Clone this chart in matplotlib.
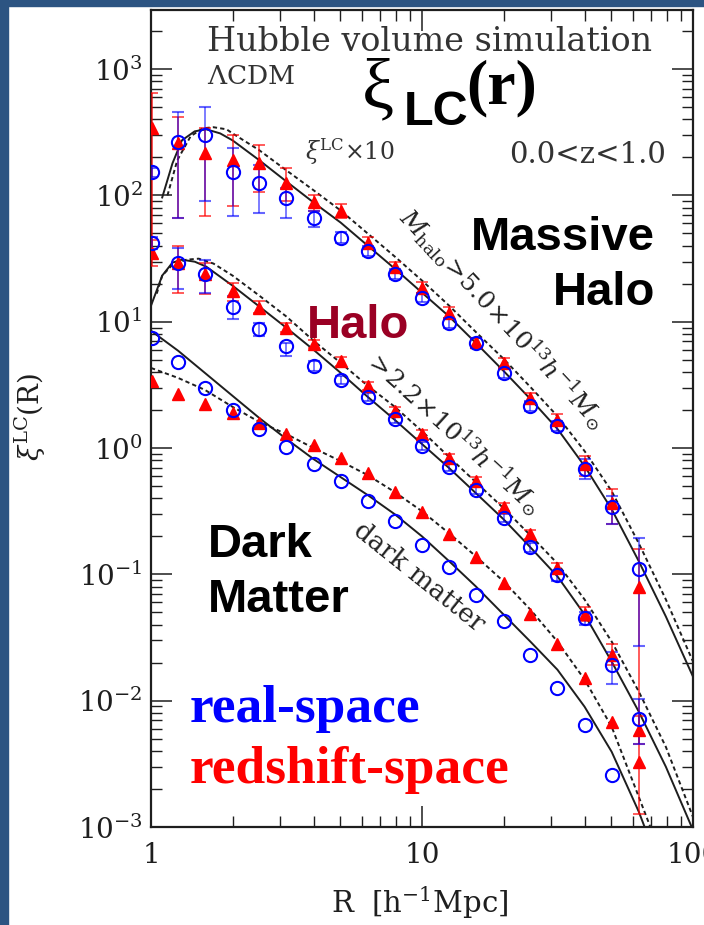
import matplotlib
matplotlib.use("Agg")
import matplotlib.pyplot as plt
from matplotlib.patches import Rectangle

plt.rcParams['mathtext.fontset'] = 'dejavuserif'
plt.rcParams['font.family'] = ['DejaVu Serif']

# measured points (R in h^-1 Mpc)
R_pts = [1.01, 1.26, 1.58, 2.0, 2.51, 3.16, 3.98, 5.01, 6.31, 7.94,
         10.0, 12.6, 15.8, 20.0, 25.1, 31.6, 39.8, 50.1, 63.1]

# massive halo (x10)
massive_real = [152, 265, 299, 152, 125, 95, 66, 46, 36.6, 24, 15.5, 9.8, 6.8, 3.94, 2.15, 1.5, 0.68, 0.34, 0.11]
massive_real_lo = [140, 66, 91, 69, 73, 66, 56, 42, 33.4, 22, 14.3, 9.0, 6.2, 3.6, 1.95, 1.37, 0.57, 0.25, 0.027]
massive_real_hi = [165, 456, 499, 236, 173, 114, 76, 51, 40, 26.2, 16.8, 10.7, 7.4, 4.3, 2.37, 1.64, 0.82, 0.42, 0.193]
massive_red = [340, 258, 215, 190, 180, 125, 88, 76, 42, 27.3, 18.6, 11.8, 6.9, 4.7, 2.5, 1.67, 0.746, 0.366, 0.080]
massive_red_lo = [32, 66, 69, 83, 106, 91, 75, 66, 38, 25, 17, 10.8, 6.3, 4.3, 2.3, 1.5, 0.599, 0.249, 0.00127]
massive_red_hi = [646, 415, 345, 300, 250, 164, 100, 86, 47, 30, 20.5, 13, 7.5, 5.2, 2.75, 1.85, 0.864, 0.473, 0.158]

# halo
halo_real = [42.4, 29.4, 24, 13.2, 8.8, 6.4, 4.48, 3.46, 2.54, 1.70, 1.04, 0.707, 0.464, 0.278, 0.164, 0.098, 0.0448, 0.0193, 0.0071]
halo_real_lo = [38, 18.3, 17, 10.6, 7.7, 5.37, 4.08, 3.2, 2.35, 1.58, 0.97, 0.66, 0.43, 0.258, 0.15, 0.089, 0.040, 0.0136, 0.0045]
halo_real_hi = [47, 38.7, 31, 16.1, 9.8, 6.8, 4.9, 3.7, 2.72, 1.82, 1.11, 0.755, 0.5, 0.3, 0.178, 0.107, 0.050, 0.0245, 0.0104]
halo_red = [35.3, 29.4, 24, 17.6, 12.9, 9.0, 6.7, 4.9, 3.1, 1.97, 1.29, 0.833, 0.547, 0.34, 0.208, 0.112, 0.049, 0.023, 0.0059]
halo_red_lo = [27.8, 17, 16.7, 14.7, 11.8, 8.3, 6.2, 4.5, 2.9, 1.85, 1.2, 0.78, 0.51, 0.315, 0.19, 0.1, 0.043, 0.019, 0.0045]
halo_red_hi = [44, 40, 29.4, 20.4, 14.7, 9.8, 7.2, 5.3, 3.35, 2.1, 1.38, 0.89, 0.585, 0.365, 0.225, 0.124, 0.055, 0.028, 0.0075]

# dark matter (no error bars)
dm_real = [7.46, 4.8, 3.0, 2.0, 1.41, 1.02, 0.746, 0.547, 0.379, 0.263, 0.172, 0.114, 0.069, 0.043, 0.023, 0.0127, 0.0064, 0.00257]
dm_red = [3.4, 2.68, 2.23, 1.90, 1.58, 1.29, 1.06, 0.833, 0.633, 0.448, 0.311, 0.208, 0.137, 0.085, 0.049, 0.028, 0.015, 0.0068, 0.0033]

# model curves (solid = real space, dashed = redshift space)
mass_solid_R = [1.1, 1.2, 1.3, 1.45, 1.6, 1.8, 2.0, 2.51, 3.16, 3.98, 5.01, 6.31, 7.94, 10, 12.6, 15.8, 20, 25.1, 31.6, 39.8, 50.1, 63.1, 79.4, 100]
mass_solid = [96.4, 179.5, 273, 322, 334, 310, 273, 190, 129, 88, 61, 40, 26.3, 17.0, 11.0, 6.8, 4.08, 2.45, 1.42, 0.72, 0.328, 0.127, 0.0464, 0.0155]
mass_dash_R = [1.15, 1.25, 1.4, 1.55, 1.7, 1.9, 2.0, 2.51, 3.16, 3.98, 5.01, 6.31, 7.94, 10, 12.6, 15.8, 20, 25.1, 31.6, 39.8, 50.1, 63.1, 79.4, 100]
mass_dash = [100, 190, 294, 340, 347, 334, 310, 228, 158, 110, 76, 49.9, 32.8, 21.2, 13.4, 8.3, 5.09, 3.05, 1.79, 0.947, 0.456, 0.176, 0.0633, 0.0204]

halo_solid_R = [1.0, 1.1, 1.2, 1.3, 1.45, 1.6, 2.0, 2.51, 3.16, 3.98, 5.01, 6.31, 7.94, 10, 12.6, 15.8, 20, 25.1, 31.6, 39.8, 50.1, 63.1, 79.4, 100]
halo_solid = [13.4, 23.2, 29.4, 31.0, 29.9, 27.3, 19.3, 13.2, 8.96, 6.0, 3.94, 2.54, 1.67, 1.076, 0.694, 0.44, 0.273, 0.164, 0.0965, 0.0481, 0.0204, 0.00818, 0.0030, 0.000946]
halo_dash_R = [1.05, 1.1, 1.2, 1.35, 1.5, 1.7, 2.0, 2.51, 3.16, 3.98, 5.01, 6.31, 7.94, 10, 12.6, 15.8, 20, 25.1, 31.6, 39.8, 50.1, 63.1, 79.4, 100]
halo_dash = [16.7, 23.2, 28.3, 31.0, 31.6, 28.9, 23.2, 16.1, 11.0, 7.07, 4.73, 3.11, 2.12, 1.36, 0.849, 0.537, 0.334, 0.204, 0.122, 0.0633, 0.0294, 0.0118, 0.00431, 0.0012]

dm_curve_R = [1.0, 1.26, 1.58, 2.0, 2.51, 3.16, 3.98, 5.01, 6.31, 7.94, 10, 12.6, 15.8, 20, 25.1, 31.6, 39.8, 50.1, 63.1, 70.8]
dm_solid = [8.49, 5.89, 3.94, 2.59, 1.73, 1.18, 0.818, 0.589, 0.424, 0.299, 0.200, 0.127, 0.0803, 0.0481, 0.0294, 0.0176, 0.00896, 0.00394, 0.00132, 0.00069]
dm_dash = [4.31, 3.59, 2.89, 2.12, 1.61, 1.29, 1.0, 0.788, 0.610, 0.448, 0.316, 0.211, 0.139, 0.088, 0.0527, 0.0294, 0.0147, 0.00622, 0.00173, 0.00091]

W, H = 704, 925
BLUE = '#0000ff'
RED = '#ff0000'
INK = '#1e1e1e'


def fp(x, y):
    # pixel position -> figure fraction
    return x / W, 1 - y / H


def err(vals, lo, hi):
    return [[v - l for v, l in zip(vals, lo)], [h - v for v, h in zip(vals, hi)]]


fig = plt.figure(figsize=(W / 100, H / 100), dpi=100)
fig.patches.append(Rectangle((0, 0), 8 / W, 1, transform=fig.transFigure, color='#2c5482', zorder=0))
fig.patches.append(Rectangle((0, 1 - 6 / H), 1, 6 / H, transform=fig.transFigure, color='#2c5482', zorder=0))

ax = fig.add_axes([151 / W, 1 - 827 / H, (693 - 151) / W, (827 - 10) / H])
ax.set_xscale('log')
ax.set_yscale('log')

for rr, yy in [(mass_solid_R, mass_solid), (halo_solid_R, halo_solid), (dm_curve_R, dm_solid)]:
    ax.plot(rr, yy, color=INK, lw=1.4, zorder=2)
for rr, yy in [(mass_dash_R, mass_dash), (halo_dash_R, halo_dash), (dm_curve_R, dm_dash)]:
    ax.plot(rr, yy, color=INK, lw=1.4, dashes=(2.2, 1.6), zorder=2)

ekw = dict(capsize=4.5, elinewidth=1.2, capthick=1.2, zorder=3)
ax.errorbar(R_pts, massive_red, yerr=err(massive_red, massive_red_lo, massive_red_hi),
            fmt='^', ms=8, color=RED, ecolor=(1, 0, 0, 0.75), **ekw)
ax.errorbar(R_pts, halo_red, yerr=err(halo_red, halo_red_lo, halo_red_hi),
            fmt='^', ms=8, color=RED, ecolor=(1, 0, 0, 0.75), **ekw)
ax.errorbar(R_pts, massive_real, yerr=err(massive_real, massive_real_lo, massive_real_hi),
            fmt='o', ms=9.5, mfc='none', mec=BLUE, mew=1.5, ecolor=(0, 0, 1, 0.6), **ekw)
ax.errorbar(R_pts, halo_real, yerr=err(halo_real, halo_real_lo, halo_real_hi),
            fmt='o', ms=9.5, mfc='none', mec=BLUE, mew=1.5, ecolor=(0, 0, 1, 0.6), **ekw)
ax.plot(R_pts, dm_red, '^', ms=8, color=RED, zorder=3)
ax.plot(R_pts[:len(dm_real)], dm_real, 'o', ms=9.5, mfc='none', mec=BLUE, mew=1.5, zorder=3)

ax.set_xlim(1, 100)
ax.set_ylim(1e-3, 2.94e3)
ax.set_xticks([1, 10, 100], ['1', '10', '100'])
ax.set_yticks([1e-3, 1e-2, 1e-1, 1, 10, 100, 1000],
              [r'$10^{-3}$', r'$10^{-2}$', r'$10^{-1}$', r'$10^{0}$', r'$10^{1}$', r'$10^{2}$', r'$10^{3}$'])
ax.tick_params(which='both', direction='in', top=True, right=True, colors=INK, labelsize=20)
ax.tick_params(which='major', length=15, width=1.1)
ax.tick_params(which='minor', length=8, width=1.0)
ax.tick_params(axis='x', pad=11)
ax.tick_params(axis='y', pad=6)
for s in ax.spines.values():
    s.set_linewidth(1.6)
    s.set_color(INK)

fig.text(*fp(420, 903), r'R  [h$^{-1}$Mpc]', ha='center', va='center', fontsize=21, color=INK)
fig.text(*fp(30, 417), r'$\xi^{\rm LC}$(R)', ha='center', va='center', rotation=90, fontsize=20, color=INK)

# annotations
fig.text(*fp(207, 51), 'Hubble volume simulation', fontsize=24, color='#333333', va='baseline')
fig.text(*fp(207, 84), r'$\Lambda$CDM', fontsize=19, color='#333333', va='baseline')
fig.text(*fp(305, 160), r'$\xi^{\rm LC}$$\times$10', fontsize=17, color='#333333', va='baseline')
fig.text(*fp(666, 163), '0.0<z<1.0', fontsize=21, color='#333333', va='baseline', ha='right')

fig.text(*fp(362, 108), 'ξ', family='Liberation Serif', fontsize=52, va='baseline')
fig.text(*fp(404, 125), 'LC', family='Liberation Sans', weight='bold', fontsize=35, va='baseline')
fig.text(*fp(466, 103), '(r)', family='Liberation Serif', weight='bold', fontsize=46, va='baseline')

bold_sans = dict(family='Liberation Sans', weight='bold', fontsize=34, va='baseline')
fig.text(*fp(655, 250), 'Massive', ha='right', **bold_sans)
fig.text(*fp(655, 305), 'Halo', ha='right', **bold_sans)
fig.text(*fp(307, 338), 'Halo', color='#9a0024', **bold_sans)
fig.text(*fp(208, 557), 'Dark', **bold_sans)
fig.text(*fp(208, 612), 'Matter', **bold_sans)

bold_serif = dict(family='Liberation Serif', weight='bold', fontsize=38.5, va='baseline')
fig.text(*fp(190, 722), 'real-space', color=BLUE, **bold_serif)
fig.text(*fp(190, 783), 'redshift-space', color=RED, **bold_serif)

rot = dict(ha='center', va='center', rotation_mode='anchor', color='#222222')
fig.text(*fp(503, 318), r'$M_{\rm halo}\!>\!5.0\!\times\!10^{13}h^{-1}M_{\odot}$', rotation=-47, fontsize=18, **rot)
fig.text(*fp(453, 432), r'$>\!2.2\!\times\!10^{13}h^{-1}M_{\odot}$', rotation=-42.5, fontsize=18, **rot)
fig.text(*fp(419, 577), 'dark matter', rotation=-38.6, fontsize=19, **rot)

fig.savefig('out.png', dpi=100, facecolor='white')
